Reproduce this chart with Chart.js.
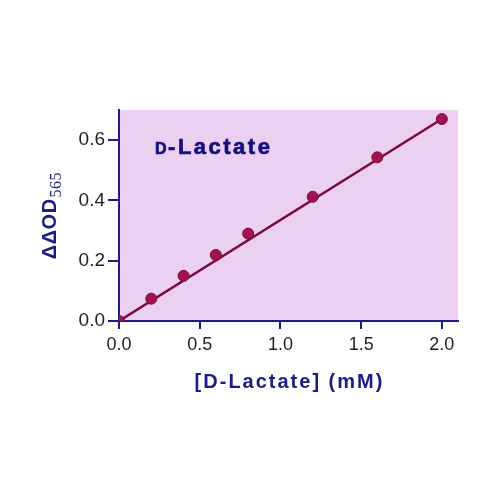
<!DOCTYPE html>
<html>
<head>
<meta charset="utf-8">
<script src="https://cdn.jsdelivr.net/npm/chart.js@4"></script>
<style>
  body { margin: 0; background: #fff; }
  #wrap { width: 500px; height: 500px; }
</style>
</head>
<body>
<div id="wrap"><canvas id="lactateChart" width="500" height="500"></canvas></div>
<script>
// standard curve readings
const concentrations = [0, 0.2, 0.4, 0.6, 0.8, 1.2, 1.6, 2.0];
const deltaOD = [0.0, 0.074, 0.15, 0.219, 0.29, 0.412, 0.543, 0.67];
// fitted line end points
const fitX = [0, 2.0];
const fitY = [0, 0.67];
const xTicks = [0, 0.5, 1.0, 1.5, 2.0];
const yTicks = [0, 0.2, 0.4, 0.6];

const navy = '#1c1c86';
const sans = '"Liberation Sans", Arial, sans-serif';

const decorPlugin = {
    id: 'decor',
    beforeDraw(chart) {
        const ctx = chart.ctx;
        const a = chart.chartArea;
        ctx.save();
        ctx.fillStyle = '#ecd0f1';
        ctx.fillRect(a.left, a.top, a.right - a.left, a.bottom - a.top);
        ctx.restore();
    },
    afterDraw(chart) {
        const ctx = chart.ctx;
        const a = chart.chartArea;
        ctx.save();
        // label inside the plot
        ctx.fillStyle = '#12127e';
        ctx.strokeStyle = '#12127e';
        ctx.lineWidth = 0.7;
        ctx.textBaseline = 'alphabetic';
        ctx.letterSpacing = '2.5px';
        ctx.font = 'bold 16px ' + sans;
        const x0 = a.left + 36;
        const y0 = a.top + 44;
        ctx.fillText('D', x0, y0);
        ctx.strokeText('D', x0, y0);
        const w = ctx.measureText('D').width;
        ctx.font = 'bold 22px ' + sans;
        ctx.fillText('-Lactate', x0 + w - 1, y0);
        ctx.strokeText('-Lactate', x0 + w - 1, y0);

        // x axis title
        ctx.letterSpacing = '2px';
        ctx.font = 'bold 20px ' + sans;
        ctx.fillStyle = navy;
        ctx.textAlign = 'center';
        ctx.textBaseline = 'middle';
        ctx.fillText('[D-Lactate] (mM)', (a.left + a.right) / 2 + 1, 382);
        ctx.textAlign = 'left';
        ctx.textBaseline = 'alphabetic';
        ctx.letterSpacing = '0.5px';

        // y axis title with subscript
        ctx.translate(56, 216);
        ctx.rotate(-Math.PI / 2);
        ctx.font = 'bold 20px ' + sans;
        const main = '\u0394\u0394OD';
        const mw = ctx.measureText(main).width;
        ctx.font = '16px "Liberation Serif", "Times New Roman", serif';
        const sw = ctx.measureText('565').width;
        const start = -(mw + sw) / 2;
        ctx.font = 'bold 20px ' + sans;
        ctx.fillText(main, start, 0);
        ctx.font = '16px "Liberation Serif", "Times New Roman", serif';
        ctx.fillText('565', start + mw + 1, 5);
        ctx.restore();
    }
};

new Chart(document.getElementById('lactateChart').getContext('2d'), {
    type: 'scatter',
    data: {
        datasets: [
            {
                label: 'D-Lactate',
                data: concentrations.map((c, i) => ({ x: c, y: deltaOD[i] })),
                backgroundColor: '#a1124f',
                borderColor: '#7d0a3c',
                borderWidth: 1,
                pointRadius: 5.5,
                order: 1
            },
            {
                label: 'fit',
                type: 'line',
                data: fitX.map((c, i) => ({ x: c, y: fitY[i] })),
                borderColor: '#7b0b3b',
                borderWidth: 2.5,
                pointRadius: 0,
                fill: false,
                order: 2
            }
        ]
    },
    options: {
        responsive: false,
        animation: false,
        layout: {
            padding: { left: 0, top: 110, right: 42, bottom: 100 }
        },
        plugins: {
            legend: { display: false },
            tooltip: { enabled: false }
        },
        scales: {
            x: {
                type: 'linear',
                min: 0,
                max: 2.1,
                afterBuildTicks: function (scale) {
                    scale.ticks = xTicks.map(v => ({ value: v }));
                },
                afterFit: function (scale) {
                    scale.height = 79;
                },
                border: { display: true, color: navy, width: 2 },
                grid: { display: true, drawOnChartArea: false, drawTicks: true, tickLength: 8, color: navy, lineWidth: 2 },
                ticks: {
                    color: '#1e1e28',
                    font: { family: sans, size: 18 },
                    padding: 5,
                    callback: v => v.toFixed(1)
                }
            },
            y: {
                min: 0,
                max: 0.7,
                afterBuildTicks: function (scale) {
                    scale.ticks = yTicks.map(v => ({ value: v }));
                },
                afterFit: function (scale) {
                    scale.width = 119;
                },
                border: { display: true, color: navy, width: 2 },
                grid: { display: true, drawOnChartArea: false, drawTicks: true, tickLength: 11, color: navy, lineWidth: 2 },
                ticks: {
                    color: '#1e1e28',
                    font: { family: sans, size: 19 },
                    padding: 3,
                    callback: v => v.toFixed(1)
                }
            }
        }
    },
    plugins: [decorPlugin]
});
</script>
</body>
</html>
